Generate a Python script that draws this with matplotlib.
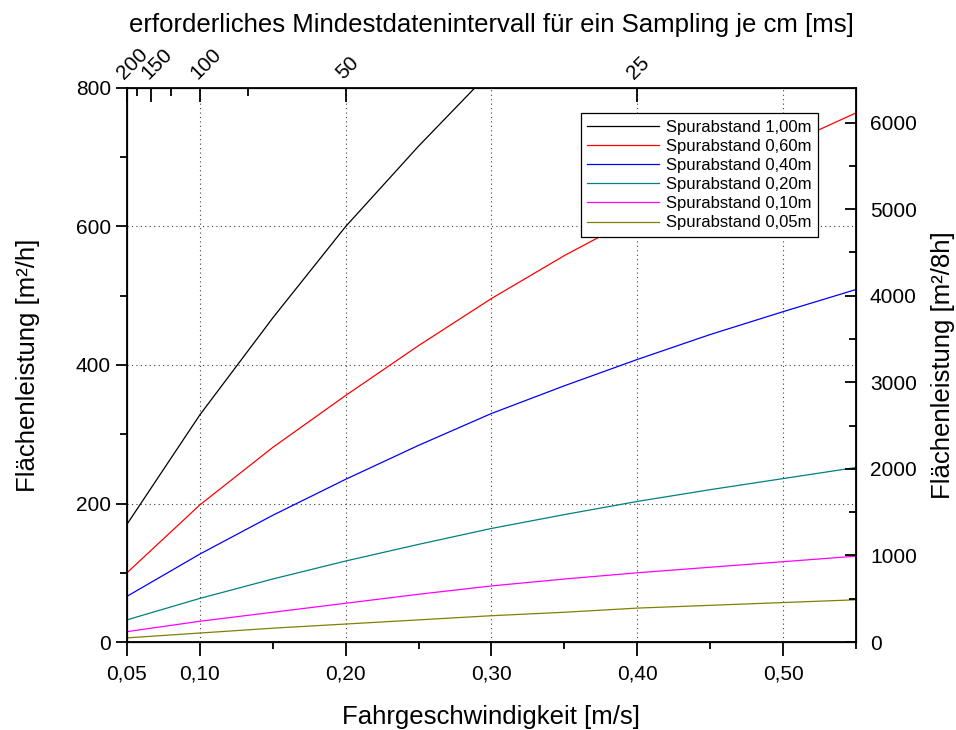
import matplotlib
matplotlib.use("Agg")
import matplotlib.pyplot as plt
import numpy as np

plt.rcParams['font.family'] = ['Liberation Sans', 'DejaVu Sans']

# Fahrgeschwindigkeit [m/s]
speed = [0.05, 0.10, 0.15, 0.20, 0.25, 0.30, 0.35, 0.40, 0.45, 0.50, 0.55]

# Flächenleistung [m²/h] je Spurabstand
area_100 = [170, 328, 468, 600, 716, 825]
area_060 = [100, 198, 281, 356, 428, 496, 558, 614, 667, 716, 764]
area_040 = [66, 127, 183, 235, 284, 330, 370, 408, 444, 477, 509]
area_020 = [32, 63, 91, 117, 141, 164, 184, 203, 220, 236, 252]
area_010 = [15, 30, 43, 56, 69, 81, 91, 100, 108, 116, 124]
area_005 = [6, 13, 20, 26, 32, 38, 43, 49, 53, 57, 61]

series = [
    ("Spurabstand 1,00m", area_100, "#000000"),
    ("Spurabstand 0,60m", area_060, "#ff0000"),
    ("Spurabstand 0,40m", area_040, "#0000ff"),
    ("Spurabstand 0,20m", area_020, "#008080"),
    ("Spurabstand 0,10m", area_010, "#ff00ff"),
    ("Spurabstand 0,05m", area_005, "#808000"),
]

# top axis: interval in ms for one sample per cm
interval_major = [200, 150, 100, 50, 25]
interval_minor = [175, 125, 75]
x_ticks = [0.05, 0.10, 0.20, 0.30, 0.40, 0.50]
x_labels = ["0,05", "0,10", "0,20", "0,30", "0,40", "0,50"]
x_minor = [0.15, 0.25, 0.35, 0.45, 0.55]

fig = plt.figure(figsize=(9.56, 7.3), dpi=100)
ax = fig.add_axes([0.1328, 0.1205, 0.7626, 0.759])

for label, vals, col in series:
    ax.plot(speed[:len(vals)], vals, color=col, lw=0.9, label=label)

ax.set_xlim(0.05, 0.55)
ax.set_ylim(0, 800)
ax.set_xticks(x_ticks)
ax.set_xticklabels(x_labels)
ax.set_xticks(x_minor, minor=True)
ax.set_yticks(np.arange(0, 801, 200))
ax.set_yticks(np.arange(100, 800, 200), minor=True)
ax.tick_params(axis='both', which='major', direction='out', length=8, width=1.3, labelsize=15)
ax.tick_params(axis='both', which='minor', direction='out', length=5, width=1.3)
ax.tick_params(axis='x', which='major', length=10, pad=6)
ax.tick_params(top=False, right=False, which='both')

for xv in x_ticks[1:]:
    ax.axvline(xv, color='0.25', lw=0.8, ls=(0, (1, 3)), zorder=0)
for yv in [200, 400, 600]:
    ax.axhline(yv, color='0.25', lw=0.8, ls=(0, (1, 3)), zorder=0)

ax.set_xlabel("Fahrgeschwindigkeit [m/s]", fontsize=18.5, labelpad=16)
ax.set_ylabel("Flächenleistung [m²/h]", fontsize=18.5, labelpad=26)

for sp in ax.spines.values():
    sp.set_linewidth(1.3)

# right axis m²/8h
ax_r = ax.twinx()
ax_r.set_ylim(0, 6400)
ax_r.set_yticks(np.arange(0, 6001, 1000))
ax_r.set_yticks(np.arange(500, 6001, 1000), minor=True)
ax_r.tick_params(axis='y', which='major', direction='in', length=8, width=1.3, labelsize=15, pad=10)
ax_r.tick_params(axis='y', which='minor', direction='in', length=5, width=1.3)
ax_r.set_ylabel("Flächenleistung [m²/8h]", fontsize=18.5, labelpad=10)

# top axis interval
ax_t = ax.twiny()
ax_t.set_xlim(0.05, 0.55)
ax_t.set_xticks([10.0 / m for m in interval_major])
ax_t.set_xticklabels([str(m) for m in interval_major], rotation=45, ha='left', va='bottom', rotation_mode='anchor')
ax_t.set_xticks([10.0 / m for m in interval_minor], minor=True)
ax_t.tick_params(axis='x', which='major', direction='in', length=10, width=1.3, labelsize=15, pad=4)
ax_t.tick_params(axis='x', which='minor', direction='in', length=6, width=1.3)
ax_t.set_xlabel("erforderliches Mindestdatenintervall für ein Sampling je cm [ms]", fontsize=18.5, labelpad=9)

leg = ax.legend(loc='upper right', bbox_to_anchor=(0.948, 0.955), fontsize=12, frameon=True,
                fancybox=False, edgecolor='black', framealpha=1, borderpad=0.4,
                labelspacing=0.25, handlelength=4.3, handletextpad=0.4, borderaxespad=0)
leg.get_frame().set_linewidth(0.9)

fig.savefig("out.png", dpi=100)
